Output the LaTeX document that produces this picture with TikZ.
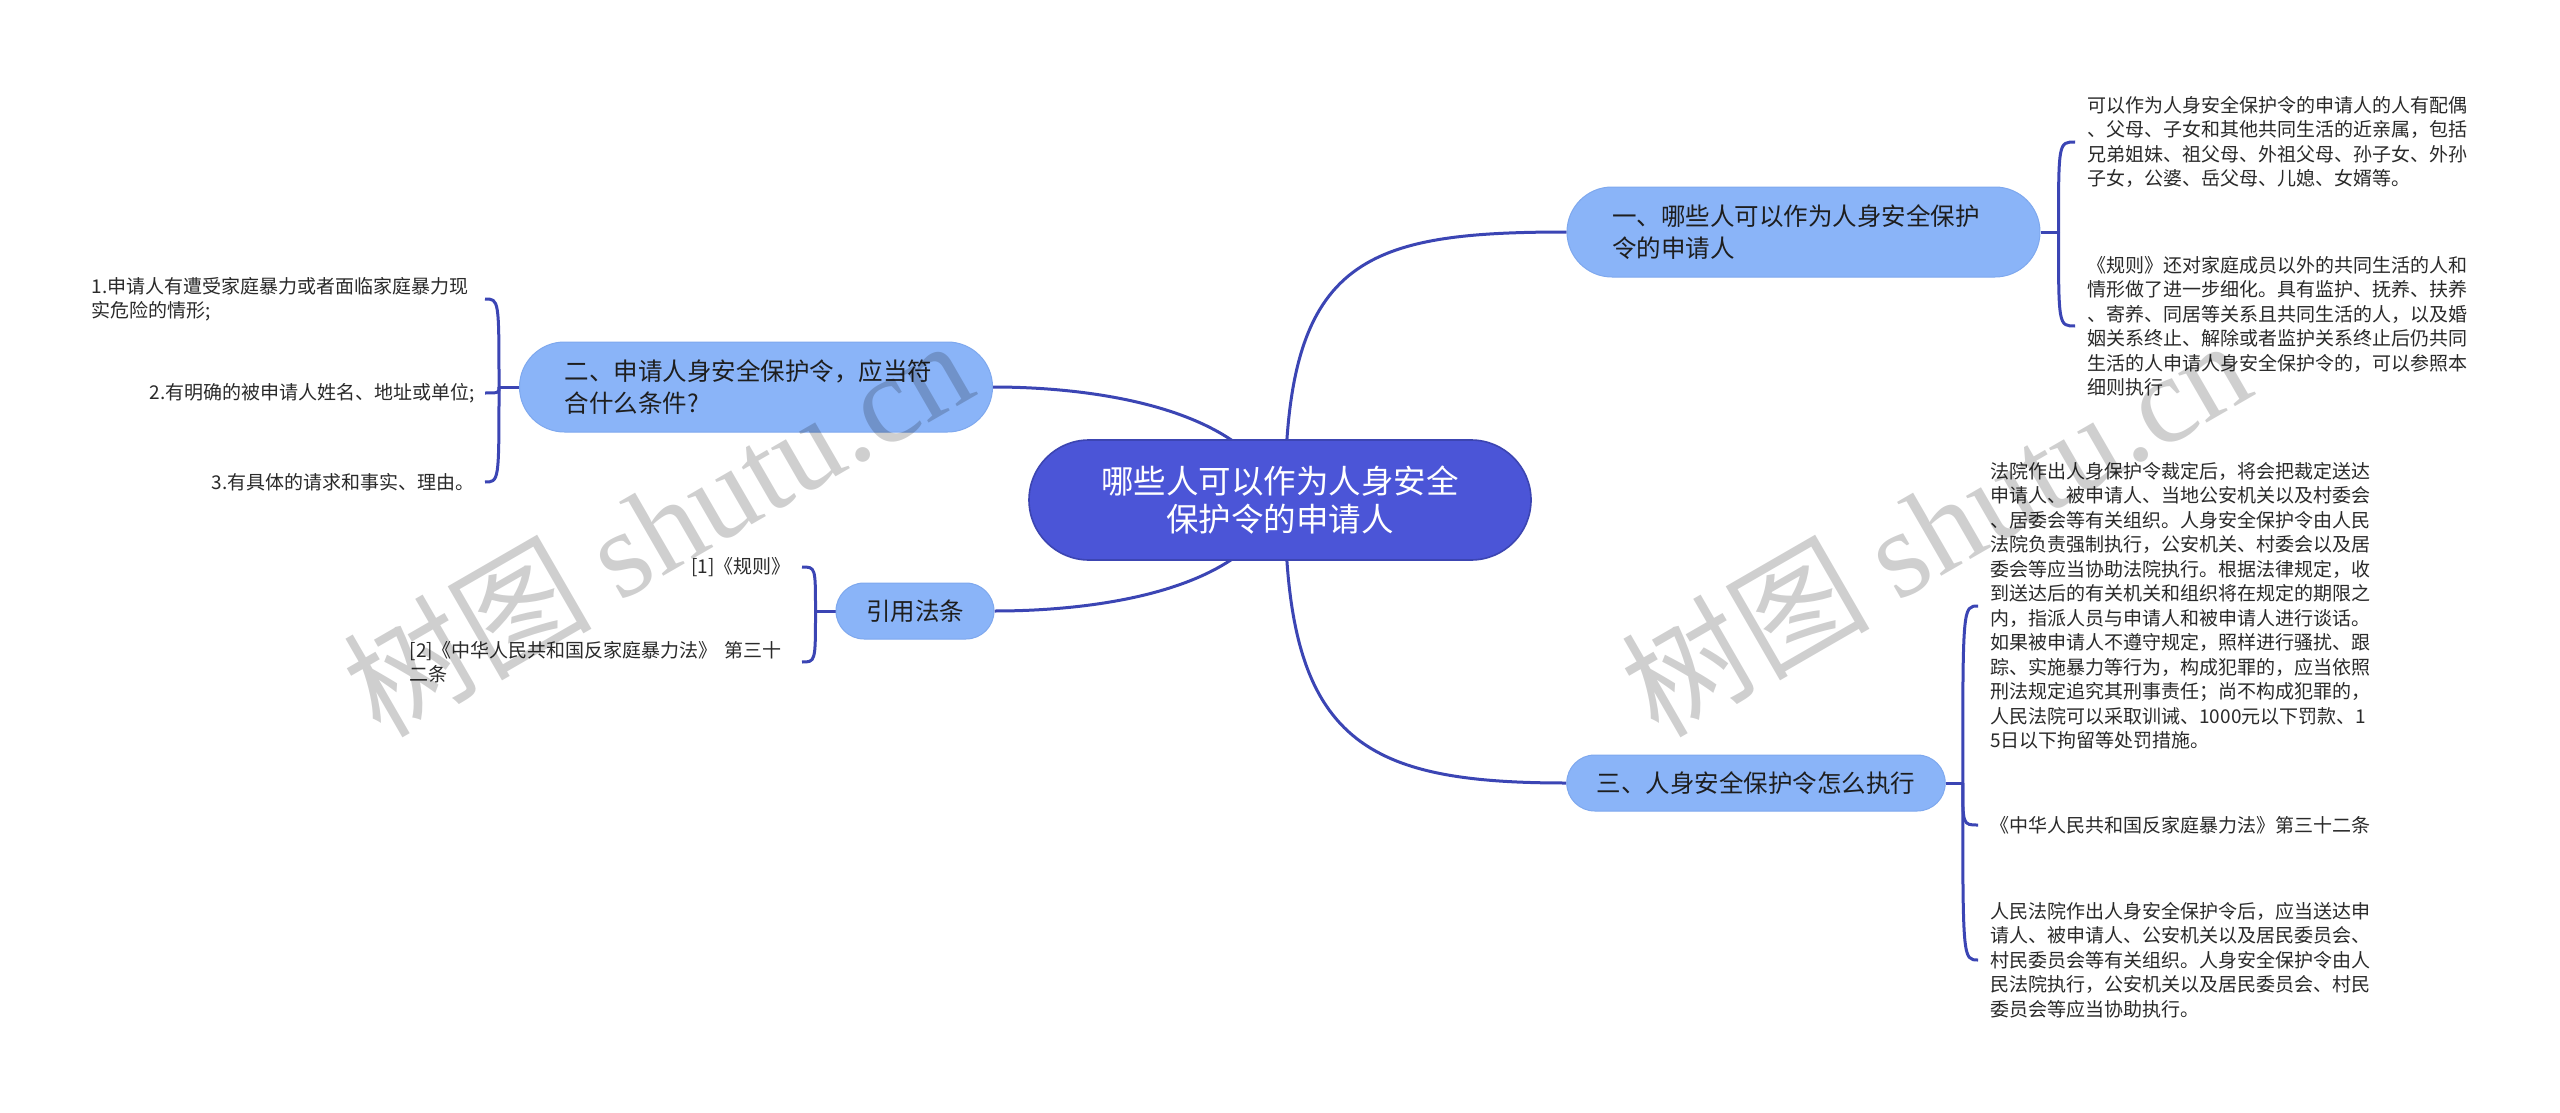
\documentclass[tikz,border=0pt]{standalone}
\usepackage{fontspec}
\setmainfont{Noto Sans CJK SC}
\newfontfamily\wmserif{Liberation Serif}
\usetikzlibrary{backgrounds}
\definecolor{cfill}{HTML}{4B55D7}
\definecolor{cborder}{HTML}{3C45B2}
\definecolor{bfill}{HTML}{8AB4F8}
\definecolor{bborder}{HTML}{7EA8EE}
\definecolor{linec}{HTML}{3B45B4}
\definecolor{leaftext}{HTML}{2A2A2A}
\definecolor{btext}{HTML}{1E1E1E}
\begin{document}
\begin{tikzpicture}[x=0.5pt,y=-0.5pt,
  conn/.style={draw=linec, line width=1.5pt},
  centernode/.style={fill=cfill, draw=cborder, line width=0.8pt, text=white,
    font=\fontsize{16.25pt}{19pt}\selectfont, align=center,
    minimum width=251pt, minimum height=60pt, rounded corners=30pt, inner sep=0pt},
  bigbranch/.style={fill=bfill, draw=bborder, line width=0.5pt, text=btext,
    font=\fontsize{12.25pt}{16pt}\selectfont, align=left, text width=191.5pt,
    inner xsep=22.5pt, inner ysep=0pt, minimum height=45pt, rounded corners=22.5pt},
  smallbranch/.style={fill=bfill, draw=bborder, line width=0.5pt, text=btext,
    font=\fontsize{12.25pt}{16pt}\selectfont, align=center,
    inner xsep=15pt, inner ysep=0pt, minimum height=28pt, rounded corners=14pt},
  leaf/.style={text=leaftext, font=\fontsize{9.5pt}{12.25pt}\selectfont,
    align=left, inner sep=0pt},
  wm/.style={text=black, text opacity=0.19, font=\fontsize{62pt}{62pt}\selectfont, inner sep=0pt}
]
\useasboundingbox (0,0) rectangle (2560,1113);

% main nodes
\node[centernode] (c) at (1280,500) {哪些人可以作为人身安全\\保护令的申请人};
\node[bigbranch] (b1) at (1803.5,232) {一、哪些人可以作为人身安全保护\\令的申请人};
\node[bigbranch] (b2) at (756,387) {二、申请人身安全保护令，应当符\\合什么条件?};
\node[smallbranch] (b3) at (1756,783) {三、人身安全保护令怎么执行};
\node[smallbranch] (b4) at (915,611) {引用法条};

% leaves of branch 1
\node[leaf, anchor=west] (r1a) at (2087,142) {可以作为人身安全保护令的申请人的人有配偶\\、父母、子女和其他共同生活的近亲属，包括\\兄弟姐妹、祖父母、外祖父母、孙子女、外孙\\子女，公婆、岳父母、儿媳、女婿等。};
\node[leaf, anchor=west] (r1b) at (2087,326) {《规则》还对家庭成员以外的共同生活的人和\\情形做了进一步细化。具有监护、抚养、扶养\\、寄养、同居等关系且共同生活的人，以及婚\\姻关系终止、解除或者监护关系终止后仍共同\\生活的人申请人身安全保护令的，可以参照本\\细则执行};

% leaves of branch 3
\node[leaf, anchor=west] (r3a) at (1990,606) {法院作出人身保护令裁定后，将会把裁定送达\\申请人、被申请人、当地公安机关以及村委会\\、居委会等有关组织。人身安全保护令由人民\\法院负责强制执行，公安机关、村委会以及居\\委会等应当协助法院执行。根据法律规定，收\\到送达后的有关机关和组织将在规定的期限之\\内，指派人员与申请人和被申请人进行谈话。\\如果被申请人不遵守规定，照样进行骚扰、跟\\踪、实施暴力等行为，构成犯罪的，应当依照\\刑法规定追究其刑事责任；尚不构成犯罪的，\\人民法院可以采取训诫、1000元以下罚款、1\\5日以下拘留等处罚措施。};
\node[leaf, anchor=west] (r3b) at (1990,825) {《中华人民共和国反家庭暴力法》第三十二条};
\node[leaf, anchor=west] (r3c) at (1990,960) {人民法院作出人身安全保护令后，应当送达申\\请人、被申请人、公安机关以及居民委员会、\\村民委员会等有关组织。人身安全保护令由人\\民法院执行，公安机关以及居民委员会、村民\\委员会等应当协助执行。};

% leaves of branch 2
\node[leaf, anchor=east, text width=191.5pt] (l2a) at (475,299) {1.申请人有遭受家庭暴力或者面临家庭暴力现\\实危险的情形;};
\node[leaf, anchor=east] (l2b) at (475,393) {2.有明确的被申请人姓名、地址或单位;};
\node[leaf, anchor=east] (l2c) at (475,482) {3.有具体的请求和事实、理由。};

% leaves of branch 4
\node[leaf, anchor=east] (q1) at (791,567) {[1]《规则》};
\node[leaf, anchor=east, text width=191.5pt] (q2) at (793,662) {[2]《中华人民共和国反家庭暴力法》 第三十\\二条};

\begin{scope}[on background layer]
\fill[white] (0,0) rectangle (2560,1113);
% center to branches
\draw[conn] ([xshift=2.5pt]c.center) .. controls (1285,260) and (1360,232) .. (b1.west);
\draw[conn] ([xshift=2.5pt]c.center) .. controls (1285,740) and (1360,783) .. (b3.west);
\draw[conn] (c.center) .. controls (1250,410) and (1100,387) .. (b2.east);
\draw[conn] (c.center) .. controls (1250,590) and (1100,611) .. (b4.east);
% branch 1 bracket
\draw[conn] (b1.east) -- ++(18,0) coordinate (j1);
\draw[conn] (j1) .. controls (j1 |- r1a.west) .. ([xshift=-6pt]r1a.west);
\draw[conn] (j1) .. controls (j1 |- r1b.west) .. ([xshift=-6pt]r1b.west);
% branch 3 bracket
\draw[conn] (b3.east) -- ++(17,0) coordinate (j3);
\draw[conn] (j3) .. controls (j3 |- r3a.west) .. ([xshift=-6pt]r3a.west);
\draw[conn] (j3) .. controls (j3 |- r3b.west) .. ([xshift=-6pt]r3b.west);
\draw[conn] (j3) .. controls (j3 |- r3c.west) .. ([xshift=-6pt]r3c.west);
% branch 2 bracket
\draw[conn] (b2.west) -- ++(-20,0) coordinate (j2);
\draw[conn] (j2) .. controls (j2 |- l2a.east) .. ([xshift=5pt]l2a.east);
\draw[conn] (j2) .. controls (j2 |- l2b.east) .. ([xshift=5pt]l2b.east);
\draw[conn] (j2) .. controls (j2 |- l2c.east) .. ([xshift=5pt]l2c.east);
% branch 4 bracket
\draw[conn] (b4.west) -- ++(-20,0) coordinate (j4);
\draw[conn] (j4) .. controls (j4 |- q1.east) .. ([xshift=5.5pt]q1.east);
\draw[conn] (j4) .. controls (j4 |- q2.east) .. ([xshift=4.5pt]q2.east);
\end{scope}

% watermarks
\node[wm, rotate=30] (wm1) at (657,526) {树图 {\wmserif shutu.cn}};
\node[wm, rotate=30] (wm2) at (1935,526) {树图 {\wmserif shutu.cn}};
\end{tikzpicture}
\end{document}
